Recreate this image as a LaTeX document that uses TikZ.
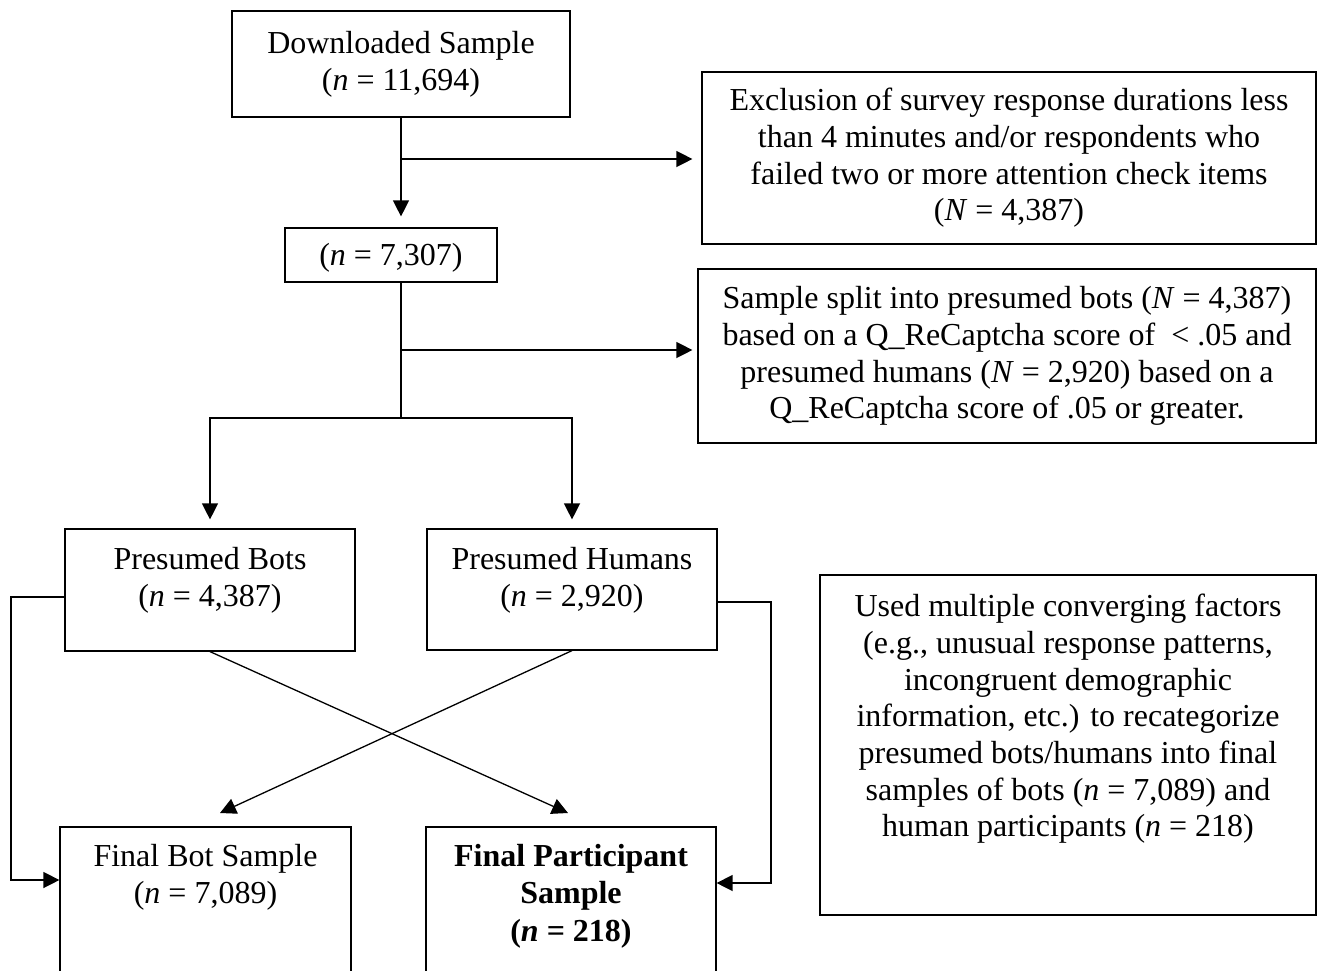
\documentclass[tikz,border=0pt]{standalone}
\usepackage{fontspec}
\setmainfont{Liberation Serif}
\usetikzlibrary{arrows.meta,calc}
\begin{document}
\begin{tikzpicture}[x=1pt,y=-1pt,
  box/.style={draw=black,line width=1.2pt,inner sep=0pt,rectangle},
  txt/.style={inner sep=0pt,align=center,font=\fontsize{32}{36.7}\selectfont},
  link/.style={draw=black,line width=1.3pt},
  arr/.style={link,-{Triangle[length=16pt,width=16pt]}}]
\path[use as bounding box] (0,0) rectangle (1319,970);
\clip (0,0) rectangle (1319,970);
% boxes
\node[box,minimum width=338pt,minimum height=106pt] (dl) at (401,64) {};
\node[box,minimum width=614pt,minimum height=172pt] (excl) at (1009,158) {};
\node[box,minimum width=212pt,minimum height=54pt] (n7) at (391,255) {};
\node[box,minimum width=618pt,minimum height=174pt] (split) at (1007,356) {};
\node[box,minimum width=290pt,minimum height=122pt] (bots) at (210,590) {};
\node[box,minimum width=290pt,minimum height=121pt] (hum) at (572,589.5) {};
\node[box,minimum width=496pt,minimum height=340pt] (used) at (1068,745) {};
\node[box,minimum width=291pt,minimum height=183pt] (fbot) at (205.5,918.5) {};
\node[box,minimum width=290pt,minimum height=183pt] (fpart) at (571,918.5) {};
% texts
\node[txt] (tdl) at (dl) {Downloaded Sample\\(\textit{n} = 11,694)};
\node[txt] (tn7) at (391,258) {(\textit{n} = 7,307)};
\node[txt] (texcl) at (excl) {Exclusion of survey response durations less\\than 4 minutes and/or respondents who\\failed two or more attention check items\\(\textit{N} = 4,387)};
\node[txt] (tsplit) at (split) {Sample split into presumed bots (\textit{N} = 4,387)\\based on a Q\_ReCaptcha score of \ {<} .05 and\\presumed humans (\textit{N} = 2,920) based on a\\Q\_ReCaptcha score of .05 or greater.};
\node[txt,anchor=north] (tbots) at (210,547) {Presumed Bots\\(\textit{n} = 4,387)};
\node[txt,anchor=north] (thum) at (572,547) {Presumed Humans\\(\textit{n} = 2,920)};
\node[txt,anchor=north] (tused) at (1068,594) {Used multiple converging factors\\(e.g., unusual response patterns,\\incongruent demographic\\information, etc.) to recategorize\\presumed bots/humans into final\\samples of bots (\textit{n} = 7,089) and\\human participants (\textit{n} = 218)};
\node[txt,anchor=north] (tfbot) at (205.5,844) {Final Bot Sample\\(\textit{n} = 7,089)};
\node[txt,anchor=north,font=\fontsize{32}{37.5}\selectfont\bfseries] (tfpart) at (571,844) {Final Participant\\Sample\\(\textit{n} = 218)};
% connectors
\coordinate (j1) at (401,159);
\coordinate (j2) at (401,350);
\coordinate (j3) at (401,418);
\coordinate (tipL) at (220,813);
\coordinate (tipR) at (568,813);
\draw[arr,shorten >=11pt] (dl.south) -- (dl.south |- n7.north);
\draw[arr,shorten >=9pt] (j1) -- (j1 -| excl.west);
\draw[link] (j1 |- n7.south) -- (j3);
\draw[arr,shorten >=5pt] (j2) -- (j2 -| split.west);
\draw[arr,shorten >=9pt] (j3) -| (bots.north);
\draw[arr,shorten >=9pt] (j3) -| (hum.north);
\draw[arr] (bots.south) -- (tipR);
\draw[arr] (hum.south) -- (tipL);
\coordinate (lb1) at (11,597);
\coordinate (lb2) at (11,880);
\draw[arr] (bots.west |- lb1) -- (lb1) -- (lb2) -- (lb2 -| fbot.west);
\coordinate (rb1) at (771,602);
\coordinate (rb2) at (771,883);
\draw[arr] (hum.east |- rb1) -- (rb1) -- (rb2) -- (rb2 -| fpart.east);
\end{tikzpicture}
\end{document}
